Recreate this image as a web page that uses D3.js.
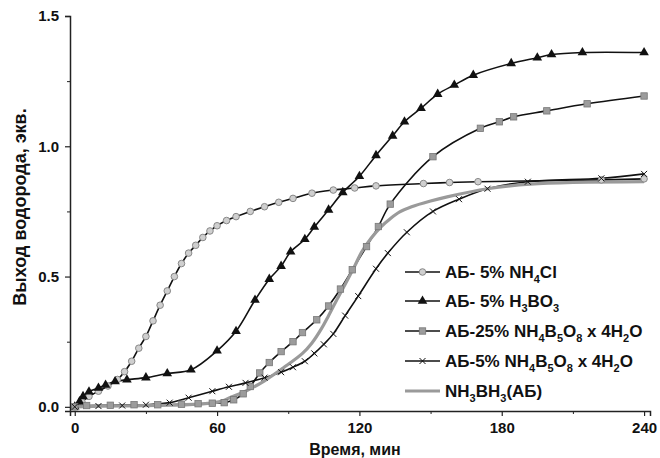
<!DOCTYPE html>
<html><head><meta charset="utf-8">
<script src="https://cdn.jsdelivr.net/npm/d3@7"></script>
<style>body{margin:0;background:#fff}svg{display:block}text{font-family:"Liberation Sans",Arial,sans-serif;font-weight:bold;fill:#111}</style>
</head><body>
<svg id="c" width="660" height="458"></svg>
<script>
const xTicks = [0, 60, 120, 180, 240];
const yTicks = [0.0, 0.5, 1.0, 1.5];
const yTickLabels = ["0.0", "0.5", "1.0", "1.5"];
const xTitle = "Время, мин";
const yTitle = "Выход водорода, экв.";

const nh4cl = [[0,0],[3,0.02],[6,0.04],[10,0.06],[14,0.08],[18,0.105],[21,0.135],[24,0.175],[27,0.225],[30,0.27],[33,0.33],[36,0.39],[39,0.445],[42,0.5],[45,0.55],[48,0.59],[51,0.62],[54,0.65],[57,0.675],[60,0.695],[64,0.715],[68,0.73],[74,0.75],[80,0.768],[86,0.785],[92,0.8],[100,0.82],[109,0.832],[118,0.84],[127,0.848],[147,0.857],[158,0.861],[170,0.864],[222,0.871],[240,0.875]];
const h3bo3 = [[0,0],[2,0.02],[3.5,0.04],[6,0.058],[10,0.072],[13,0.084],[17,0.097],[22,0.104],[30,0.112],[39,0.128],[49,0.142],[60,0.215],[68,0.29],[76,0.41],[82,0.49],[87,0.54],[91,0.595],[97,0.643],[101,0.69],[107,0.756],[113,0.823],[120,0.885],[127,0.965],[134,1.04],[139,1.094],[146,1.146],[153,1.2],[160,1.235],[168,1.273],[184,1.318],[195,1.34],[201,1.352],[214,1.36],[240,1.36]];
const nh4b5o8_25 = [[0,0],[5,0.005],[15,0.006],[25,0.008],[35,0.008],[45,0.01],[52,0.012],[58,0.014],[63,0.016],[67,0.027],[71,0.05],[74,0.078],[78,0.13],[82,0.17],[87,0.212],[92,0.25],[96,0.285],[102,0.334],[107,0.387],[112,0.452],[117,0.526],[123,0.615],[128,0.692],[133,0.778],[151,0.96],[171,1.069],[179,1.094],[185,1.113],[199,1.136],[216,1.163],[240,1.193]];
const nh4b5o8_5 = [[0,0],[10,0.003],[20,0.005],[30,0.008],[40,0.016],[48,0.035],[58,0.06],[65,0.077],[72,0.092],[80,0.112],[87,0.133],[92,0.152],[97,0.175],[101,0.205],[105,0.24],[109,0.28],[114,0.35],[119.5,0.425],[127,0.53],[132,0.59],[140,0.67],[151,0.75],[162,0.797],[174,0.837],[191,0.864],[222,0.877],[240,0.894]];
const ab = [[0,0],[20,0.004],[40,0.006],[55,0.012],[62,0.022],[66,0.038],[72,0.06],[80,0.1],[88,0.15],[96,0.205],[100,0.245],[104,0.3],[107,0.35],[111,0.42],[114,0.47],[118,0.54],[121,0.595],[125,0.648],[129,0.69],[133,0.722],[137,0.748],[142,0.768],[150,0.79],[157,0.806],[174,0.837],[192,0.855],[240,0.864]];

const legendLabels = [
  [["АБ- 5% NH",0],["4",1],["Cl",0]],
  [["АБ- 5% H",0],["3",1],["BO",0],["3",1]],
  [["АБ-25% NH",0],["4",1],["B",0],["5",1],["O",0],["8",1],[" x 4H",0],["2",1],["O",0]],
  [["АБ-5% NH",0],["4",1],["B",0],["5",1],["O",0],["8",1],[" x 4H",0],["2",1],["O",0]],
  [["NH",0],["3",1],["BH",0],["3",1],["(АБ)",0]]
];

const series = [
  {data: nh4cl, line:"#111", lw:1.6, marker:"circle"},
  {data: h3bo3, line:"#111", lw:1.6, marker:"triangle"},
  {data: nh4b5o8_25, line:"#111", lw:1.6, marker:"square"},
  {data: nh4b5o8_5, line:"#111", lw:1.6, marker:"cross"},
  {data: ab, line:"#9a9a9a", lw:3.2, marker:null}
];

const svg = d3.select("#c");
const x = d3.scaleLinear().domain([-2, 242.5]).range([70, 650]);
const y = d3.scaleLinear().domain([-0.016, 1.5]).range([411, 16]);

function drawMarker(g, type, cx, cy) {
  if (type === "circle") {
    g.append("circle").attr("cx",cx).attr("cy",cy).attr("r",3.3).attr("fill","#cfcfcf").attr("stroke","#888").attr("stroke-width",1);
  } else if (type === "triangle") {
    g.append("path").attr("d", d3.symbol(d3.symbolTriangle, 40)()).attr("transform",`translate(${cx},${cy})`).attr("fill","#111");
  } else if (type === "square") {
    g.append("rect").attr("x",cx-3.2).attr("y",cy-3.2).attr("width",6.4).attr("height",6.4).attr("fill","#9c9c9c").attr("stroke","#777").attr("stroke-width",0.8);
  } else if (type === "cross") {
    g.append("path").attr("d",`M${cx-3},${cy-3}L${cx+3},${cy+3}M${cx-3},${cy+3}L${cx+3},${cy-3}`).attr("stroke","#111").attr("stroke-width",1);
  }
}

// axes
const xAxis = d3.axisBottom(x).tickValues(xTicks).tickSize(5).tickFormat(d3.format("d"));
const gx = svg.append("g").attr("transform","translate(0,411)").call(xAxis);
gx.select(".domain").attr("stroke","#222").attr("stroke-width",1.5);
gx.selectAll(".tick line").attr("stroke","#222").attr("stroke-width",1.2);
gx.selectAll(".tick text").attr("font-size",15).attr("dy","0.95em");
const gxm = svg.append("g").attr("transform","translate(0,411)").call(d3.axisBottom(x).tickValues([30,90,150,210]).tickSize(3).tickFormat(""));
gxm.select(".domain").remove(); gxm.selectAll(".tick line").attr("stroke","#222");

const yAxis = d3.axisLeft(y).tickValues(yTicks).tickSize(5).tickFormat((d,i)=>yTickLabels[i]);
const gy = svg.append("g").attr("transform","translate(70,0)").call(yAxis);
gy.select(".domain").attr("stroke","#222").attr("stroke-width",1.5);
gy.selectAll(".tick line").attr("stroke","#222").attr("stroke-width",1.2);
gy.selectAll(".tick text").attr("font-size",15).attr("dx","-0.2em");
const gym = svg.append("g").attr("transform","translate(70,0)").call(d3.axisLeft(y).tickValues([0.25,0.75,1.25]).tickSize(3).tickFormat(""));
gym.select(".domain").remove(); gym.selectAll(".tick line").attr("stroke","#222");
svg.selectAll(".tick text").attr("fill","#111").style("font-family","'Liberation Sans',Arial,sans-serif").style("font-weight","bold");

// titles
svg.append("text").attr("x",355).attr("y",455).attr("text-anchor","middle").attr("font-size",16).text(xTitle);
svg.append("text").attr("transform","translate(26,207) rotate(-90)").attr("text-anchor","middle").attr("font-size",18).text(yTitle);

// lines
const line = d3.line().x(d=>x(d[0])).y(d=>y(d[1])).curve(d3.curveCatmullRom.alpha(0.5));
series.forEach(s=>{
  svg.append("path").datum(s.data).attr("d",line).attr("fill","none").attr("stroke",s.line).attr("stroke-width",s.lw);
});
series.forEach(s=>{
  if(!s.marker) return;
  const g = svg.append("g");
  s.data.forEach(d=>drawMarker(g, s.marker, x(d[0]), y(d[1])));
});

// legend
const lg = svg.append("g");
const rowY = [272, 301, 331, 361, 391];
series.forEach((s,i)=>{
  const yy = rowY[i];
  lg.append("line").attr("x1",405).attr("x2",440).attr("y1",yy).attr("y2",yy).attr("stroke",s.line).attr("stroke-width",s.lw);
  if (s.marker) drawMarker(lg, s.marker, 422.5, yy);
  const t = lg.append("text").attr("x",445).attr("y",yy+6).attr("font-size",17);
  let prevSub = false;
  legendLabels[i].forEach(([txt,sub])=>{
    const ts = t.append("tspan").text(txt);
    if (sub) { ts.attr("font-size",11).attr("dy",5); }
    else if (prevSub) { ts.attr("dy",-5); }
    prevSub = !!sub;
  });
});
</script>
</body></html>
